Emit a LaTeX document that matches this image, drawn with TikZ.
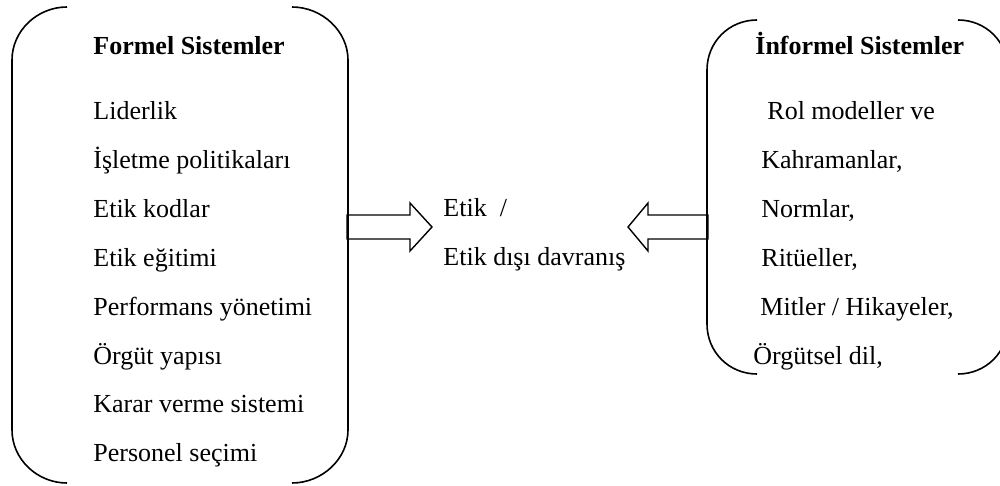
\documentclass[tikz,border=0pt]{standalone}
\usepackage{fontspec}
\setmainfont{Liberation Serif}
\usetikzlibrary{positioning}

\begin{document}
\begin{tikzpicture}[
        x = 0.5pt,
        y = -0.5pt,
        item/.style = {
            anchor = base west,
            inner sep = 0pt,
            text height = 10pt,
            text depth = 3pt,
            font = \fontsize{13}{15}\selectfont
        },
        head/.style = {
            item,
            font = \fontsize{13}{15}\selectfont\bfseries
        },
        listbelow/.style = {
            below = 11pt of #1.south west,
            anchor = north west
        },
        bracket/.style = {
            line width = 0.8pt
        },
        blockarrow/.style = {
            draw,
            line width = 0.7pt
        }
            ]
            \useasboundingbox (0,0) rectangle (1000,486);
            \clip (0,0) rectangle (1000,486);

            % formel box
            \draw[bracket] (67,7) .. controls (37,7) and (12,31) .. (12,60) -- (12,430)
                .. controls (12,459) and (37,483) .. (67,483);
            \draw[bracket] (292,7) .. controls (322,7) and (348,31) .. (348,60) -- (348,430)
                .. controls (348,459) and (322,483) .. (292,483);

            \node[head] (formel) at (93,55) {Formel Sistemler};
            \node[item] (liderlik) at (93,120) {Liderlik};
            \node[item, listbelow=liderlik] (politika) {İşletme politikaları};
            \node[item, listbelow=politika] (kodlar) {Etik kodlar};
            \node[item, listbelow=kodlar] (egitim) {Etik eğitimi};
            \node[item, listbelow=egitim] (performans) {Performans yönetimi};
            \node[item, listbelow=performans] (yapi) {Örgüt yapısı};
            \node[item, listbelow=yapi] (karar) {Karar verme sistemi};
            \node[item, listbelow=karar] (personel) {Personel seçimi};

            % informel box
            \draw[bracket] (757,20) .. controls (729,20) and (707,42) .. (707,70) -- (707,324)
                .. controls (707,352) and (729,374) .. (757,374);
            \draw[bracket] (958,20) .. controls (986,20) and (1008,42) .. (1008,70) -- (1008,324)
                .. controls (1008,352) and (986,374) .. (958,374);

            \node[head] (informel) at (755,55) {İnformel Sistemler};
            \node[item] (rol) at (767,120) {Rol modeller ve};
            \node[item, listbelow=rol, xshift=-3pt] (kahraman) {Kahramanlar,};
            \node[item, listbelow=kahraman] (normlar) {Normlar,};
            \node[item, listbelow=normlar] (rituel) {Ritüeller,};
            \node[item, listbelow=rituel, xshift=-0.5pt] (mitler) {Mitler / Hikayeler,};
            \node[item, listbelow=mitler, xshift=-3.5pt] (dil) {Örgütsel dil,};

            % middle
            \node[item] (etik) at (443,217) {Etik\ \ /};
            \node[item, listbelow=etik] (disi) {Etik dışı davranış};

            \coordinate (fout) at (347,227);
            \coordinate (iout) at (708,227);

            \draw[blockarrow] (fout) ++(0,-12) -- ++(63,0) -- ++(0,-12) -- ++(22,24)
                -- ++(-22,24) -- ++(0,-12) -- ++(-63,0) -- cycle;
            \draw[blockarrow] (iout) ++(0,-12) -- ++(-60,0) -- ++(0,-12) -- ++(-20,24)
                -- ++(20,24) -- ++(0,-12) -- ++(60,0) -- cycle;

        \end{tikzpicture}
\end{document}
